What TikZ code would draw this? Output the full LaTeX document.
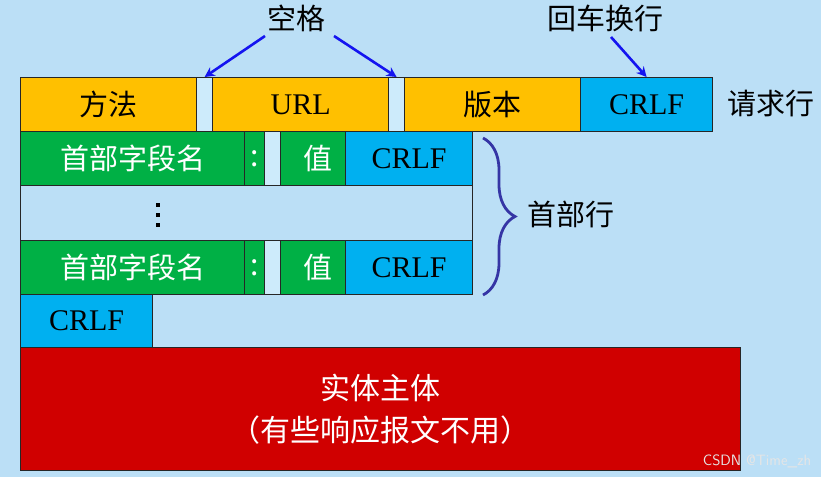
\documentclass[tikz,border=0pt]{standalone}
\usepackage{fontspec}
\setmainfont{Liberation Serif}
\newfontfamily\cjk{Noto Sans CJK SC}
\usetikzlibrary{decorations.pathreplacing,arrows.meta}
\definecolor{bg}{HTML}{BBDFF6}
\definecolor{gapc}{HTML}{CDEBFB}
\definecolor{orng}{HTML}{FFC000}
\definecolor{grn}{HTML}{00B045}
\definecolor{cyn}{HTML}{00B0F0}
\definecolor{redc}{HTML}{D00000}
\definecolor{arrowc}{HTML}{1414F0}
\definecolor{bracec}{HTML}{3535A5}
\tikzset{
  box/.style={draw=black!85, line width=1.2pt, anchor=north west, inner sep=0pt,
    minimum height=54pt, font=\fontsize{30}{32}\selectfont},
  orbox/.style={box, fill=orng},
  gnbox/.style={box, fill=grn, text=white},
  cybox/.style={box, fill=cyn},
  gapbox/.style={box, fill=gapc, minimum width=16pt},
  lbl/.style={font=\cjk\fontsize{29}{32}\selectfont},
  arr/.style={draw=arrowc, line width=2.6pt, -{Stealth[length=10pt,width=10pt]}},
  vdot/.style={fill=black, minimum size=4pt, inner sep=0pt}
}
\begin{document}
\begin{tikzpicture}[x=1pt,y=-1pt]
\fill[bg] (0,0) rectangle (821,477);
\useasboundingbox (0,0) rectangle (821,477);
% request line
\node[orbox, minimum width=176pt] (method) at (20,77) {\cjk\fontsize{29}{32}\selectfont 方法};
\node[gapbox] (g1) at (196,77) {};
\node[orbox, minimum width=176pt] (url) at (212,77) {URL};
\node[gapbox] (g2) at (388,77) {};
\node[orbox, minimum width=176pt] (ver) at (404,77) {\cjk\fontsize{29}{32}\selectfont 版本};
\node[cybox, minimum width=132pt] (crlfa) at (580,77) {CRLF};
% header line 1
\node[gnbox, minimum width=224pt] (hna) at (20,131) {\cjk\fontsize{29}{32}\selectfont 首部字段名};
\node[gnbox, minimum width=20pt] (cola) at (244,131) {\cjk :};
\node[gapbox] (g3) at (264,131) {};
\node[gnbox, minimum width=65pt] (vala) at (280,131) {\cjk\fontsize{29}{32}\selectfont\hspace{10pt}值};
\node[cybox, minimum width=127pt] (crlfb) at (345,131) {CRLF};
% dots row
\node[box, fill=bg, minimum width=452pt, minimum height=55pt] (dots) at (20,185) {};
\node[vdot] (d1) at (158,205) {};
\node[vdot] (d2) at (158,215) {};
\node[vdot] (d3) at (158,225) {};
% header line 2
\node[gnbox, minimum width=224pt] (hnb) at (20,240) {\cjk\fontsize{29}{32}\selectfont 首部字段名};
\node[gnbox, minimum width=20pt] (colb) at (244,240) {\cjk :};
\node[gapbox] (g4) at (264,240) {};
\node[gnbox, minimum width=65pt] (valb) at (280,240) {\cjk\fontsize{29}{32}\selectfont\hspace{10pt}值};
\node[cybox, minimum width=127pt] (crlfc) at (345,240) {CRLF};
% empty line
\node[cybox, minimum width=132pt, minimum height=53pt] (crlfd) at (20,294) {CRLF};
% body
\node[box, fill=redc, text=white, minimum width=720pt, minimum height=123pt, align=center,
  font=\cjk\fontsize{30}{34}\selectfont]
  (body) at (20,347) {实体主体\\[8pt]（有些响应报文不用）};
% labels
\node[lbl] (space) at (296,18) {空格};
\node[lbl] (crlflbl) at (605,18) {回车换行};
\node[lbl] (reqline) at (771,104) {请求行};
\node[lbl] (hdrline) at (571,214) {首部行};
\coordinate (sa) at (265,36);
\coordinate (sb) at (334,36);
\coordinate (sc) at (611,37);
\draw[arr] (sa) -- (g1.north);
\draw[arr] (sb) -- (g2.north);
\draw[arr] (sc) -- (crlfa.north);
% brace
\draw[bracec, line width=2.8pt, decorate, decoration={brace, amplitude=32pt, aspect=0.5}]
  (483,138) -- (483,295);
% watermark
\node[text=white!80!gray, font=\sffamily\fontsize{15}{17}\selectfont] (wm) at (757,461) {CSDN @Time\_zh};
\end{tikzpicture}
\end{document}
